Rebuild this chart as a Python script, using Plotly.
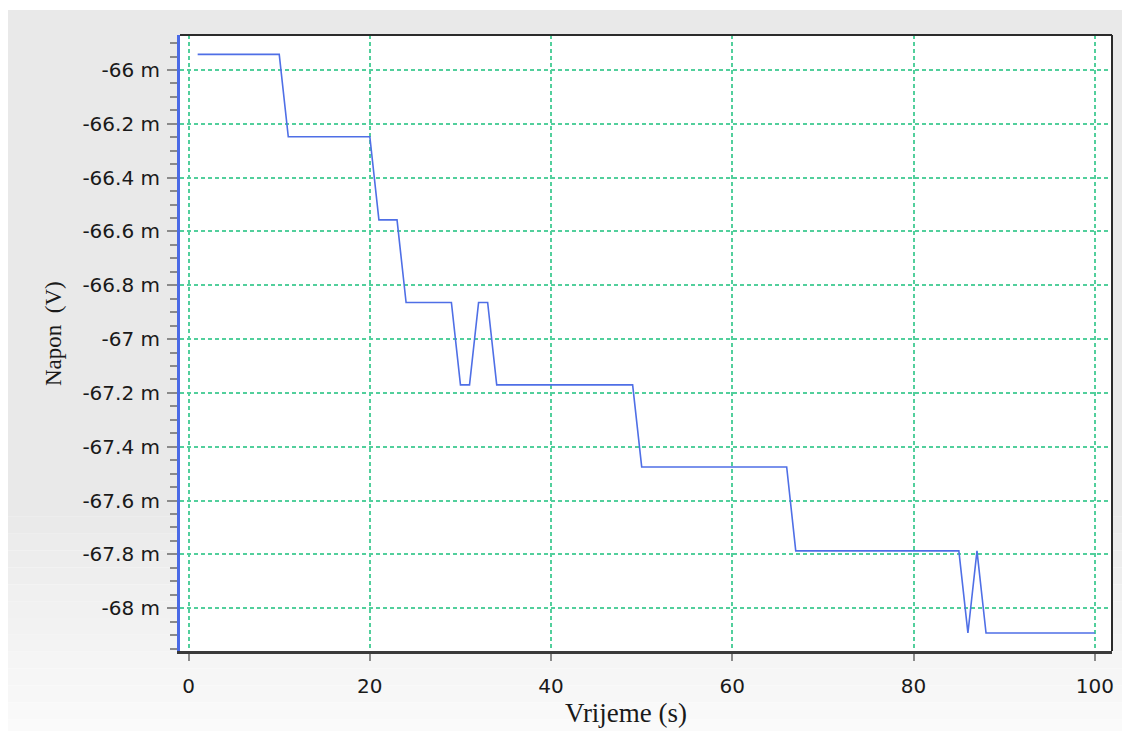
import plotly.graph_objects as go

# ---- data ----
time_s = [1, 10, 11, 20, 21, 23, 24, 29, 30, 31, 32, 33, 34, 49, 50, 66, 67, 85, 86, 87, 88, 100]
napon_mV = [-65.942, -65.942, -66.248, -66.248, -66.557, -66.557, -66.864, -66.864,
            -67.170, -67.170, -66.864, -66.864, -67.170, -67.170, -67.475, -67.475,
            -67.787, -67.787, -68.092, -67.787, -68.092, -68.092]

x_tickvals = [0, 20, 40, 60, 80, 100]
y_tickvals = [-66.0, -66.2, -66.4, -66.6, -66.8, -67.0, -67.2, -67.4, -67.6, -67.8, -68.0]
y_ticktext = ["-66 m", "-66.2 m", "-66.4 m", "-66.6 m", "-66.8 m", "-67 m",
              "-67.2 m", "-67.4 m", "-67.6 m", "-67.8 m", "-68 m"]

x_title = "Vrijeme (s)"
y_title = "Napon  (V)"

# ---- layout geometry (page pixels; the page body adds an 8px offset) ----
OFF = 8
PAGE_W, PAGE_H = 1130, 731
W, H = PAGE_W - OFF, PAGE_H - OFF
L, R, T, B = 180, 1112, 35, 651          # plot area in page pixels
pw, ph = R - L, B - T


def px(xp):
    return (xp - L) / pw


def py(yp):
    return (B - yp) / ph


fig = go.Figure()
fig.add_trace(go.Scatter(
    x=time_s, y=napon_mV, mode="lines",
    line=dict(color="#4f6fe6", width=1.6),
    showlegend=False, hoverinfo="x+y",
))

shapes = []
# grey panel background with a light fade toward the bottom
shapes.append(dict(type="rect", xref="paper", yref="paper",
                   x0=px(8), x1=px(PAGE_W + 5), y0=py(500), y1=py(10),
                   fillcolor="#e9e9e9", line=dict(width=0), layer="below"))
n_bands = 14
for i in range(n_bands):
    y0p = 500 + i * (PAGE_H + 5 - 500) / n_bands
    y1p = 500 + (i + 1) * (PAGE_H + 5 - 500) / n_bands
    g = int(233 + (251 - 233) * (i + 0.5) / n_bands)
    shapes.append(dict(type="rect", xref="paper", yref="paper",
                       x0=px(8), x1=px(PAGE_W + 5), y0=py(y1p), y1=py(y0p),
                       fillcolor=f"rgb({g},{g},{g})", line=dict(width=0), layer="below"))
# white plotting area
shapes.append(dict(type="rect", xref="paper", yref="paper", x0=0, x1=1, y0=0, y1=1,
                   fillcolor="white", line=dict(width=0), layer="below"))
# top and right frame lines
shapes.append(dict(type="line", xref="paper", yref="paper", x0=0, x1=1, y0=1, y1=1,
                   line=dict(color="#2b2b2b", width=2), layer="above"))
shapes.append(dict(type="line", xref="paper", yref="paper", x0=1, x1=1, y0=0, y1=1,
                   line=dict(color="#2b2b2b", width=2), layer="above"))

tick_font = dict(family="DejaVu Sans", size=20, color="#1a1a1a")
grid_color = "#52cf9c"

fig.update_layout(
    width=W, height=H,
    margin=dict(l=L - OFF, r=W - (R - OFF), t=T - OFF, b=H - (B - OFF), pad=0),
    paper_bgcolor="white", plot_bgcolor="white",
    shapes=shapes,
    xaxis=dict(
        range=[-0.95, 101.9], tickmode="array", tickvals=x_tickvals,
        ticks="outside", ticklen=7, tickwidth=1.5, tickcolor="#8a8a8a",
        tickfont=tick_font, ticklabelstandoff=8,
        showline=True, linecolor="#3a3a3a", linewidth=3,
        showgrid=True, gridcolor=grid_color, gridwidth=1.5, griddash="4px,3px",
        zeroline=False,
    ),
    yaxis=dict(
        range=[-68.159, -65.870], tickmode="array", tickvals=y_tickvals, ticktext=y_ticktext,
        ticks="outside", ticklen=10, tickwidth=1.5, tickcolor="#8a8a8a",
        tickfont=tick_font, ticklabelstandoff=3,
        minor=dict(tickmode="linear", tick0=-66.0, dtick=0.05, ticks="outside",
                   ticklen=7, tickwidth=1.5, tickcolor="#8a8a8a", showgrid=False),
        showline=True, linecolor="#4a6ae6", linewidth=3,
        showgrid=True, gridcolor=grid_color, gridwidth=1.5, griddash="4px,3px",
        zeroline=False,
    ),
    annotations=[
        dict(text=x_title, xref="paper", yref="paper", x=px(626), y=py(713),
             xanchor="center", yanchor="middle", showarrow=False,
             font=dict(family="Liberation Serif", size=27, color="#1a1a1a")),
        dict(text=y_title, xref="paper", yref="paper", x=px(53), y=py(334),
             xanchor="center", yanchor="middle", showarrow=False, textangle=-90,
             font=dict(family="Liberation Serif", size=23, color="#1a1a1a")),
    ],
)

fig.write_html("out.html")
